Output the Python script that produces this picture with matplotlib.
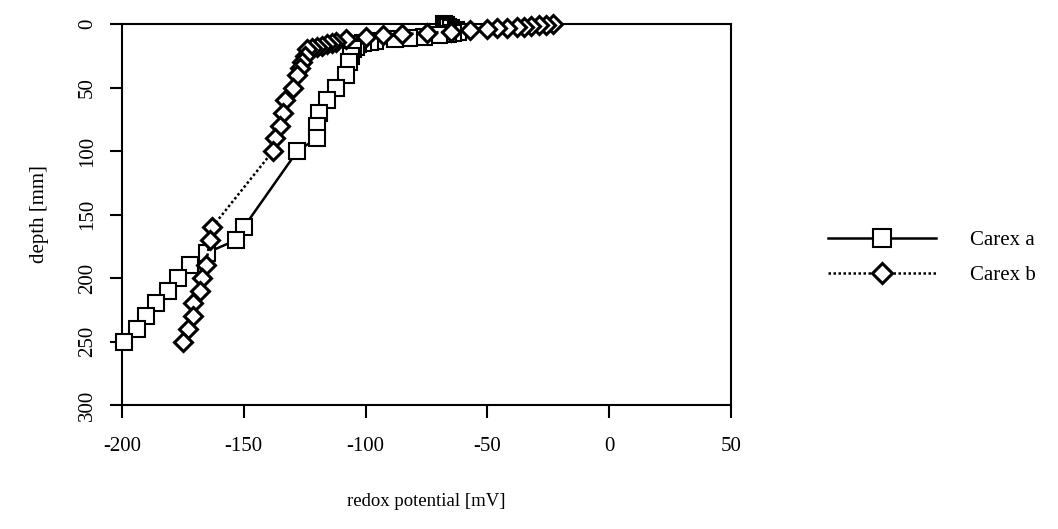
import matplotlib
matplotlib.use("Agg")
import matplotlib.pyplot as plt

plt.rcParams['font.family'] = ['Liberation Serif', 'DejaVu Serif']
plt.rcParams['axes.unicode_minus'] = False

# Carex a (squares, solid line)
depth_a = [0, 1, 2, 3, 5, 6, 7, 8, 9, 10, 11, 12, 13, 14, 15, 16, 18, 20, 25, 30,
           40, 50, 60, 70, 80, 90, 100, 160, 170, 180, 190, 200, 210, 220, 230, 240, 250]
redox_a = [-68, -67, -66, -65, -63, -62, -64, -66, -70, -76, -82, -88, -96, -98, -101, -103,
           -104, -105, -106, -107, -108, -112, -116, -119, -120, -120, -128, -150, -153,
           -165, -172, -177, -181, -186, -190, -194, -199]

# Carex b (diamonds, dotted line)
depth_b = [0, 0.5, 1, 1.5, 2, 2.5, 3, 3.5, 4, 5, 6, 7, 8, 9, 10, 12, 14, 15, 16, 17, 18,
           19, 20, 25, 30, 35, 40, 50, 60, 70, 80, 90, 100, 160, 170, 190, 200, 210, 220,
           230, 240, 250]
redox_b = [-23, -26, -29, -32, -35, -38, -42, -46, -50, -57, -65, -75, -85, -93, -100, -108,
           -112, -114, -116, -118, -120, -122, -124, -125, -126, -127, -128, -130, -133,
           -134, -135, -137, -138, -163, -164, -165.5, -167, -168, -171, -171, -173, -175]

x_ticks = [-200, -150, -100, -50, 0, 50]
y_ticks = [0, 50, 100, 150, 200, 250, 300]

fig = plt.figure(figsize=(10.58, 5.29), dpi=100)
ax = fig.add_axes([0.1153, 0.2344, 0.5757, 0.7202])

ax.plot(redox_a, depth_a, color='black', linewidth=1.8, linestyle='-',
        marker='s', markersize=12, markerfacecolor='white', markeredgecolor='black',
        markeredgewidth=1.5, label='Carex a', clip_on=False, zorder=3)
ax.plot(redox_b, depth_b, color='black', linewidth=1.8, linestyle=(0, (1, 1)),
        marker='D', markersize=9, markerfacecolor='white', markeredgecolor='black',
        markeredgewidth=2.2, label='Carex b', clip_on=False, zorder=3)

ax.set_xlim(-200, 50)
ax.set_ylim(300, 0)
ax.set_xticks(x_ticks)
ax.set_yticks(y_ticks)
ax.set_yticklabels([str(v) for v in y_ticks], rotation=90, va='center')

for s in ax.spines.values():
    s.set_linewidth(1.5)
ax.tick_params(direction='out', length=9, width=1.5, labelsize=15)
ax.tick_params(axis='x', pad=14)
ax.tick_params(axis='y', pad=9)

ax.set_xlabel('redox potential [mV]', fontsize=13.5, labelpad=27)
ax.set_ylabel('depth [mm]', fontsize=15, labelpad=21)

fig.legend(loc='center left', bbox_to_anchor=(0.7826, 0.513), frameon=False,
           fontsize=15, handlelength=5.2, handletextpad=1.6, labelspacing=0.75,
           borderpad=0, borderaxespad=0, numpoints=1, markerscale=1.1)

fig.savefig('out.png', dpi=100)
